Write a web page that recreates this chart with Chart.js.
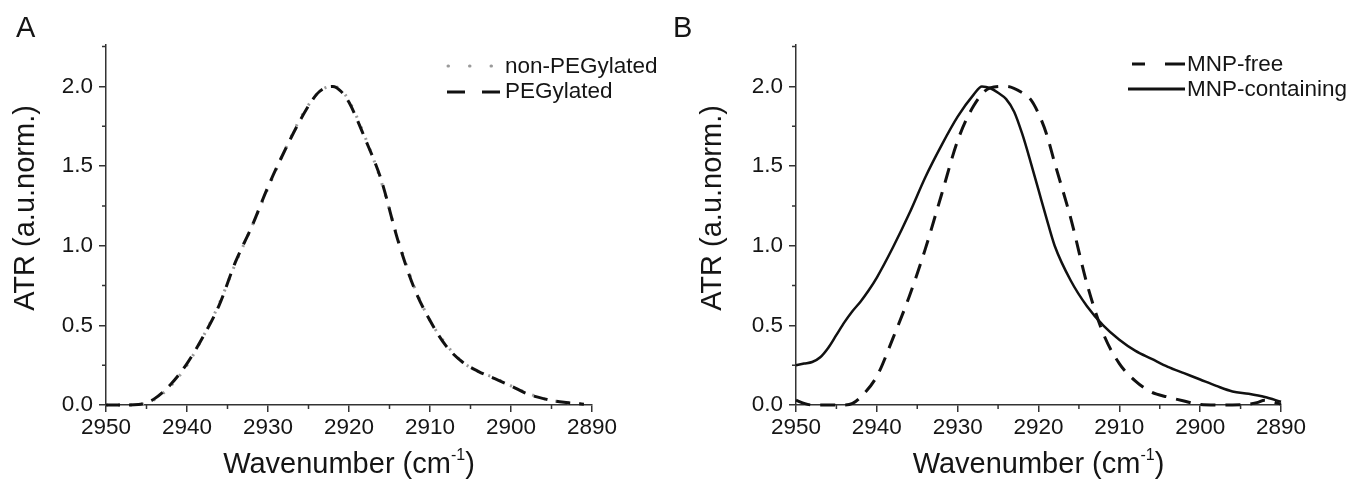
<!DOCTYPE html>
<html>
<head>
<meta charset="utf-8">
<title>ATR spectra</title>
<script src="https://cdn.jsdelivr.net/npm/chart.js@4.4.1/dist/chart.umd.min.js"></script>
<style>
  body { margin: 0; background: #fff; }
  #wrap { position: relative; width: 1352px; height: 485px; background: #fff; overflow: hidden;
          font-family: 'Liberation Sans', Arial, sans-serif; color: #151515; }
  canvas { position: absolute; top: 0; }
  .txt { position: absolute; line-height: 1; white-space: nowrap; }
  .panel { font-size: 29px; top: 13px; }
  .xtitle { font-size: 29px; top: 449px; text-align: center; }
  .xtitle sup { font-size: 16px; vertical-align: 13px; line-height: 0; }
  .ytitle { font-size: 29px; transform: translate(-50%, -50%) rotate(-90deg); }
  .leg { font-size: 22.5px; }
  svg { position: absolute; }
</style>
</head>
<body>
<div id="wrap">
  <canvas id="chartA" width="676" height="485" style="left:0"></canvas>
  <canvas id="chartB" width="676" height="485" style="left:676px"></canvas>

  <div class="txt panel" style="left:16px">A</div>
  <div class="txt panel" style="left:673px">B</div>

  <div class="txt ytitle" style="left:24px;top:208px">ATR (a.u.norm.)</div>
  <div class="txt ytitle" style="left:711px;top:208px">ATR (a.u.norm.)</div>
  <div class="txt xtitle" style="left:106px;width:486px">Wavenumber (cm<sup>-1</sup>)</div>
  <div class="txt xtitle" style="left:796px;width:485px">Wavenumber (cm<sup>-1</sup>)</div>

  <!-- legend A -->
  <svg style="left:445px;top:61px" width="56" height="10">
    <line x1="3" y1="5" x2="54" y2="5" stroke="#9a9a9a" stroke-width="3" stroke-linecap="round" stroke-dasharray="0.5 21"/>
  </svg>
  <div class="txt leg" style="left:505px;top:55px">non-PEGylated</div>
  <svg style="left:445px;top:87px" width="56" height="10">
    <line x1="2" y1="5" x2="55" y2="5" stroke="#111" stroke-width="3" stroke-dasharray="18 17"/>
  </svg>
  <div class="txt leg" style="left:505px;top:80px">PEGylated</div>

  <!-- legend B -->
  <svg style="left:1130px;top:59px" width="56" height="10">
    <line x1="2" y1="5" x2="55" y2="5" stroke="#111" stroke-width="3" stroke-dasharray="13 20 20"/>
  </svg>
  <div class="txt leg" style="left:1187px;top:53px">MNP-free</div>
  <svg style="left:1126px;top:84px" width="60" height="10">
    <line x1="2" y1="5" x2="59" y2="5" stroke="#111" stroke-width="3"/>
  </svg>
  <div class="txt leg" style="left:1187px;top:78px">MNP-containing</div>
</div>

<script>
// axis ticks (wavenumber in cm-1, ATR normalised)
const xTickValues = [2950, 2940, 2930, 2920, 2910, 2900, 2890];
const xMinorTicks = [2945, 2935, 2925, 2915, 2905, 2895];
const yTickValues = [0, 0.5, 1.0, 1.5, 2.0];
const yMinorTicks = [0.25, 0.75, 1.25, 1.75, 2.25];

// panel A
const aWavenumber = [2950, 2948, 2946, 2945, 2944, 2942, 2940, 2938, 2936, 2934, 2932, 2930, 2928, 2926, 2924, 2923, 2922,
  2921, 2920, 2918, 2916, 2914, 2912, 2910, 2908, 2906, 2904, 2902, 2900, 2898, 2896, 2894, 2892, 2891];
const aNonPegylated = [0, 0, 0.002, 0.012, 0.035, 0.12, 0.25, 0.43, 0.64, 0.89, 1.12, 1.36, 1.59, 1.80, 1.95, 1.99, 2.00,
  1.98, 1.91, 1.68, 1.40, 1.05, 0.75, 0.53, 0.38, 0.27, 0.21, 0.17, 0.12, 0.075, 0.04, 0.02, 0.01, 0.005];
const aPegylated = [0, 0, 0.003, 0.015, 0.04, 0.13, 0.26, 0.43, 0.63, 0.90, 1.12, 1.37, 1.59, 1.79, 1.95, 1.99, 2.00,
  1.97, 1.90, 1.67, 1.41, 1.04, 0.74, 0.53, 0.37, 0.27, 0.21, 0.165, 0.12, 0.07, 0.04, 0.02, 0.01, 0.005];

// panel B
const bFreeWavenumber = [2950, 2949, 2948, 2946, 2944, 2943, 2942, 2940, 2938, 2936, 2934, 2932, 2930, 2928, 2926, 2924, 2922,
  2921, 2920, 2919, 2918, 2916, 2914, 2912, 2910, 2908, 2906, 2904, 2902, 2900, 2898, 2896, 2894, 2893, 2892, 2891, 2890];
const bMnpFree = [0.03, 0.01, 0, 0, 0, 0.01, 0.05, 0.18, 0.42, 0.68, 0.98, 1.32, 1.66, 1.88, 1.99, 2.00, 1.96,
  1.92, 1.83, 1.70, 1.52, 1.17, 0.76, 0.45, 0.26, 0.15, 0.08, 0.05, 0.025, 0.003, 0, 0, 0.005, 0.015, 0.03, 0.02, 0.005];
const bContWavenumber = [2950, 2949, 2948, 2947, 2946, 2945, 2944, 2943, 2942, 2941, 2940, 2938, 2936, 2934, 2932, 2930, 2928,
  2927, 2926, 2925, 2924, 2923, 2922, 2921, 2920, 2919, 2918, 2916, 2914, 2912, 2910, 2908, 2906, 2904, 2902, 2900, 2898,
  2896, 2894, 2892, 2890];
const bMnpContaining = [0.25, 0.26, 0.27, 0.30, 0.36, 0.44, 0.52, 0.59, 0.65, 0.72, 0.80, 0.99, 1.20, 1.43, 1.63, 1.81, 1.95,
  2.00, 1.99, 1.96, 1.92, 1.84, 1.70, 1.53, 1.35, 1.17, 1.00, 0.78, 0.62, 0.50, 0.41, 0.34, 0.29, 0.24, 0.20, 0.16, 0.12,
  0.085, 0.07, 0.05, 0.02];

const axisColor = '#333';
const textColor = '#151515';
const fontFamily = "'Liberation Sans', Arial, sans-serif";

function toPoints(xs, ys) {
  return xs.map((x, i) => ({ x: x, y: ys[i] }));
}

// Origin-style short minor ticks, placed through the chart scales
const minorTicks = {
  id: 'minorTicks',
  afterDraw(chart) {
    const { ctx, chartArea, scales: { x, y } } = chart;
    ctx.save();
    ctx.strokeStyle = axisColor;
    ctx.lineWidth = 1.5;
    ctx.beginPath();
    xMinorTicks.forEach(v => {
      const px = x.getPixelForValue(v);
      ctx.moveTo(px, chartArea.bottom);
      ctx.lineTo(px, chartArea.bottom + 4);
    });
    yMinorTicks.forEach(v => {
      const py = y.getPixelForValue(v);
      ctx.moveTo(chartArea.left, py);
      ctx.lineTo(chartArea.left - 4, py);
    });
    ctx.stroke();
    ctx.restore();
  }
};

function makeChart(canvasId, datasets, yAxisWidth, rightPad) {
  const ctx = document.getElementById(canvasId).getContext('2d');
  return new Chart(ctx, {
    type: 'line',
    data: { datasets: datasets },
    options: {
      responsive: false,
      animation: false,
      devicePixelRatio: 1,
      layout: { padding: { left: 0, top: 45, right: rightPad, bottom: 0 } },
      plugins: { legend: { display: false }, tooltip: { enabled: false } },
      elements: { point: { radius: 0 } },
      scales: {
        x: {
          type: 'linear',
          reverse: true,
          min: 2890,
          max: 2950,
          afterBuildTicks: scale => { scale.ticks = xTickValues.map(v => ({ value: v })); },
          afterFit: scale => { scale.height = 80; },
          ticks: {
            color: textColor,
            padding: 2,
            maxRotation: 0,
            autoSkip: false,
            font: { family: fontFamily, size: 22.5 },
            callback: v => String(v)
          },
          grid: { drawOnChartArea: false, drawTicks: true, tickLength: 7, color: axisColor, lineWidth: 1.5 },
          border: { display: true, color: axisColor, width: 1.5 }
        },
        y: {
          type: 'linear',
          min: 0,
          max: 2.26,
          afterBuildTicks: scale => { scale.ticks = yTickValues.map(v => ({ value: v })); },
          afterFit: scale => { scale.width = yAxisWidth; },
          ticks: {
            color: textColor,
            padding: 6,
            font: { family: fontFamily, size: 22.5 },
            callback: v => v.toFixed(1)
          },
          grid: { drawOnChartArea: false, drawTicks: true, tickLength: 7, color: axisColor, lineWidth: 1.5 },
          border: { display: true, color: axisColor, width: 1.5 }
        }
      }
    },
    plugins: [minorTicks]
  });
}

makeChart('chartA', [
  {
    label: 'non-PEGylated',
    data: toPoints(aWavenumber, aNonPegylated),
    borderColor: '#9a9a9a',
    borderWidth: 3,
    borderDash: [2, 10],
    cubicInterpolationMode: 'monotone',
    clip: false,
    order: 1
  },
  {
    label: 'PEGylated',
    data: toPoints(aWavenumber, aPegylated),
    borderColor: '#111',
    borderWidth: 3,
    borderDash: [14, 9],
    cubicInterpolationMode: 'monotone',
    clip: false,
    order: 0
  }
], 106, 84);

makeChart('chartB', [
  {
    label: 'MNP-free',
    data: toPoints(bFreeWavenumber, bMnpFree),
    borderColor: '#111',
    borderWidth: 3,
    borderDash: [15, 10],
    cubicInterpolationMode: 'monotone',
    clip: false
  },
  {
    label: 'MNP-containing',
    data: toPoints(bContWavenumber, bMnpContaining),
    borderColor: '#111',
    borderWidth: 2.5,
    cubicInterpolationMode: 'monotone',
    clip: false
  }
], 120, 71);
</script>
</body>
</html>
